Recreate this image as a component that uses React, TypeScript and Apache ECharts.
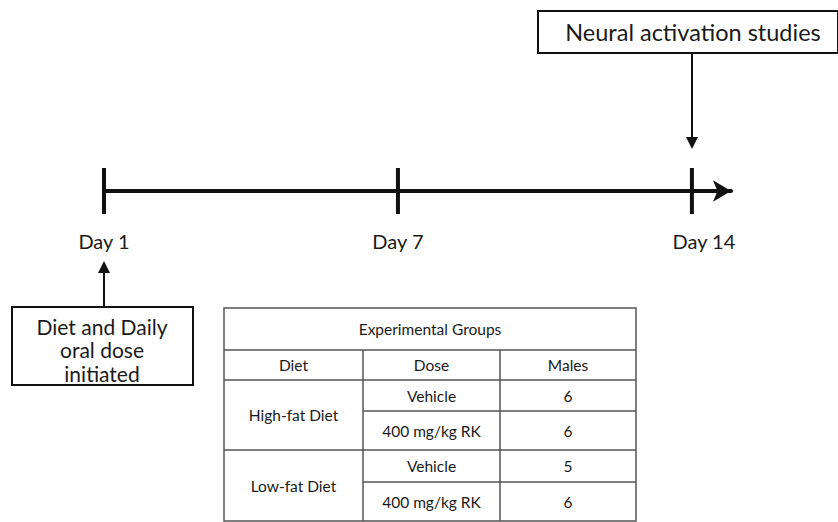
import React, { useEffect, useRef } from "react";
import * as echarts from "echarts";

const timelineDays = ["Day 1", "Day 7", "Day 14"];
const startNote = ["Diet and Daily", "oral dose", "initiated"];
const endNote = "Neural activation studies";
const tableTitle = "Experimental Groups";
const tableHeaders = ["Diet", "Dose", "Males"];
const diets = ["High-fat Diet", "Low-fat Diet"];
const doses = ["Vehicle", "400 mg/kg RK", "Vehicle", "400 mg/kg RK"];
const males = [6, 6, 5, 6];

const FONT = "Lato, 'Open Sans', sans-serif";
const INK = "#111";
const TXT = "#1a1a1a";
const GRID = "#555";

export default function App() {
  const ref = useRef<HTMLDivElement>(null);
  useEffect(() => {
    if (!ref.current) return;
    const chart = echarts.init(ref.current, null, { renderer: "svg" });

    // table geometry
    const tx0 = 224, tx1 = 636;
    const cols = [224, 363, 500, 636];
    const rowsY = [308, 350, 380, 411, 450, 482, 521];
    const colC = [(cols[0] + cols[1]) / 2, (cols[1] + cols[2]) / 2, (cols[2] + cols[3]) / 2];
    const tableFont = { fontFamily: FONT, fontSize: 15.5, fill: TXT, align: "center", verticalAlign: "middle" };
    const tg: any[] = [];
    const ls = { stroke: GRID, lineWidth: 1.5 };
    tg.push({ type: "rect", shape: { x: tx0, y: rowsY[0], width: tx1 - tx0, height: rowsY[6] - rowsY[0] }, style: { fill: "#fff", ...ls } });
    [rowsY[1], rowsY[2], rowsY[4]].forEach((y) => tg.push({ type: "line", shape: { x1: tx0, y1: y, x2: tx1, y2: y }, style: ls }));
    [rowsY[3], rowsY[5]].forEach((y) => tg.push({ type: "line", shape: { x1: cols[1], y1: y, x2: tx1, y2: y }, style: ls }));
    [cols[1], cols[2]].forEach((x) => tg.push({ type: "line", shape: { x1: x, y1: rowsY[1], x2: x, y2: rowsY[6] }, style: ls }));
    tg.push({ type: "text", x: (tx0 + tx1) / 2, y: (rowsY[0] + rowsY[1]) / 2, style: { ...tableFont, text: tableTitle } });
    tableHeaders.forEach((h, i) => tg.push({ type: "text", x: colC[i], y: (rowsY[1] + rowsY[2]) / 2, style: { ...tableFont, text: h } }));
    diets.forEach((d, i) => tg.push({ type: "text", x: colC[0], y: (rowsY[2 + i * 2] + rowsY[4 + i * 2]) / 2, style: { ...tableFont, text: d } }));
    doses.forEach((d, i) => tg.push({ type: "text", x: colC[1], y: (rowsY[2 + i] + rowsY[3 + i]) / 2, style: { ...tableFont, text: d } }));
    males.forEach((m, i) => tg.push({ type: "text", x: colC[2], y: (rowsY[2 + i] + rowsY[3 + i]) / 2, style: { ...tableFont, text: String(m) } }));

    const noteFont = { fontFamily: FONT, fontSize: 21, fill: TXT, align: "center", verticalAlign: "middle" };

    chart.setOption({
      animation: false,
      backgroundColor: "#fff",
      grid: { left: 104, right: 107, top: 168, bottom: 308 },
      xAxis: {
        type: "value",
        min: 0,
        max: 2.133,
        axisLine: { show: true, onZero: true, symbol: ["none", "arrow"], symbolSize: [16, 18], lineStyle: { color: INK, width: 4 } },
        axisTick: { show: false },
        axisLabel: { show: false },
        splitLine: { show: false },
      },
      yAxis: { type: "value", min: -1, max: 1, show: false },
      series: [
        {
          type: "scatter",
          clip: false,
          symbol: "rect",
          symbolSize: [4, 46],
          itemStyle: { color: INK, opacity: 1 },
          data: timelineDays.map((d, i) => ({
            value: [i, 0],
            name: d,
            label: i === 2 ? { offset: [12, 0] } : undefined,
          })),
          label: {
            show: true,
            position: "bottom",
            distance: 17,
            formatter: (p: any) => p.name,
            fontFamily: FONT,
            fontSize: 20,
            color: TXT,
          },
        },
      ],
      graphic: [
        // end note box + arrow
        { type: "rect", shape: { x: 538, y: 11, width: 300, height: 42 }, style: { fill: "#fff", stroke: INK, lineWidth: 2 } },
        { type: "text", x: 693, y: 32, style: { ...noteFont, fontSize: 23.5, text: endNote } },
        { type: "line", shape: { x1: 692, y1: 53, x2: 692, y2: 140 }, style: { stroke: INK, lineWidth: 2 } },
        { type: "polygon", shape: { points: [[686, 137], [698, 137], [692, 149]] }, style: { fill: INK } },
        // start note box + arrow
        { type: "rect", shape: { x: 12, y: 307, width: 181, height: 78 }, style: { fill: "#fff", stroke: INK, lineWidth: 2 } },
        ...startNote.map((t, i) => ({ type: "text", x: 102, y: 326 + i * 23.5, style: { ...noteFont, text: t } })),
        { type: "line", shape: { x1: 104, y1: 307, x2: 104, y2: 270 }, style: { stroke: INK, lineWidth: 2 } },
        { type: "polygon", shape: { points: [[98, 273], [110, 273], [104, 261]] }, style: { fill: INK } },
        ...tg,
      ],
    });
    return () => chart.dispose();
  }, []);
  return <div ref={ref} style={{ width: 838, height: 522, position: "absolute", left: 0, top: 0 }} />;
}
